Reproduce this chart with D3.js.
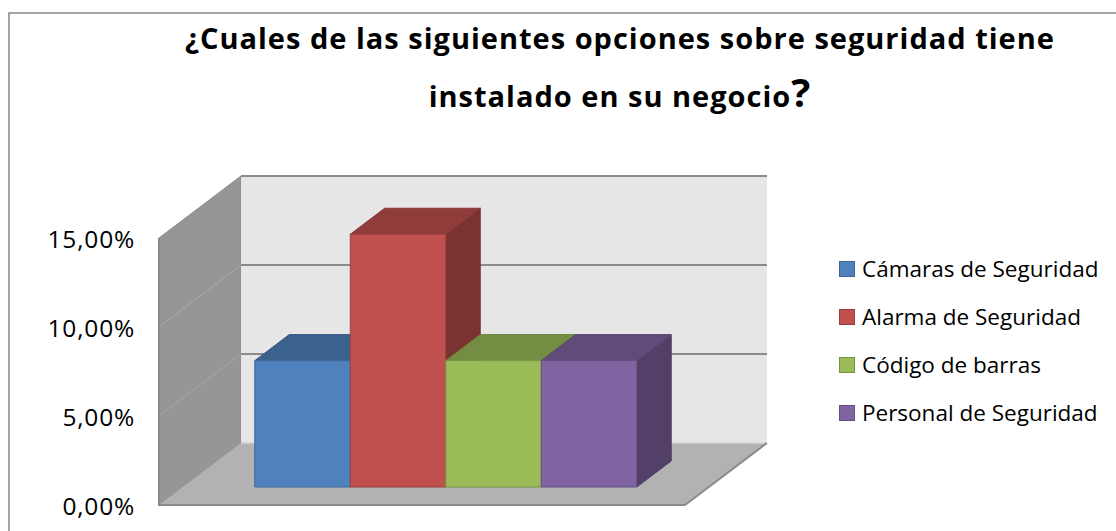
<!DOCTYPE html>
<html>
<head>
<meta charset="utf-8">
<script src="https://cdn.jsdelivr.net/npm/d3@7"></script>
<style>
    body { margin: 0; background: #fff; }
    text { font-family: "Open Sans", Lato, sans-serif; fill: #000; }
</style>
</head>
<body>
<div id="chart"></div>
<script>
// chart data
const series = ["Cámaras de Seguridad", "Alarma de Seguridad", "Código de barras", "Personal de Seguridad"];
const values = [0.071, 0.142, 0.071, 0.071];
const yTicks = [0, 0.05, 0.10, 0.15];
const titleLines = ["¿Cuales de las siguientes opciones sobre seguridad tiene", "instalado en su negocio"];
const titleMark = "?";

const palette = ["#4F81BD", "#C0504D", "#9BBB59", "#8064A2"];

const W = 1116, H = 531;
let svg = d3.select("#chart")
    .append("svg")
    .attr("width", W)
    .attr("height", H);

// outer chart frame
svg.append("rect")
    .attr("x", 9).attr("y", 13)
    .attr("width", W).attr("height", H)
    .attr("fill", "#fff")
    .attr("stroke", "#878787")
    .attr("stroke-width", 1.5);

// 3d box: front plane + depth vector
const plot = { x0: 159, y0: 505, w: 526, dx: 82, dy: 62 };
const zF = 0.29, zB = 0.71; // bar depth in the box

let x = d3.scaleBand()
    .domain(series)
    .range([0, plot.w])
    .paddingInner(0)
    .paddingOuter(0.754);
let y = d3.scaleLinear()
    .domain([0, 0.15])
    .range([plot.y0, 238]);

const P = (px, v, z) => [plot.x0 + px + z * plot.dx, y(v) - z * plot.dy];
const poly = pts => "M" + pts.map(p => p.join(",")).join("L") + "Z";
const line = (a, b) => "M" + a.join(",") + "L" + b.join(",");
const vMax = y.domain()[1];

// walls
svg.append("path")
    .attr("d", poly([P(0, vMax, 0), P(0, vMax, 1), P(0, 0, 1), P(0, 0, 0)]))
    .attr("fill", "#969696")
    .attr("stroke", "#8c8c8c")
    .attr("stroke-width", 1);
svg.append("path")
    .attr("d", poly([P(0, vMax, 1), P(plot.w, vMax, 1), P(plot.w, 0, 1), P(0, 0, 1)]))
    .attr("fill", "#e6e6e6");
svg.append("path")
    .attr("d", poly([P(0, 0, 0), P(plot.w, 0, 0), P(plot.w, 0, 1), P(0, 0, 1)]))
    .attr("fill", "#b2b2b2");

// gridlines
yTicks.forEach(t => {
    svg.append("path")
        .attr("d", line(P(0, t, 1), P(plot.w, t, 1)))
        .attr("stroke", t === 0 ? "#d4d4d4" : "#8a8a8a")
        .attr("stroke-width", t === 0 ? 1.5 : 2)
        .attr("fill", "none");
    if (t > 0 && t < vMax) {
        svg.append("path")
            .attr("d", line(P(0, t, 0), P(0, t, 1)))
            .attr("stroke", "#a9a9a9")
            .attr("stroke-width", 1)
            .attr("fill", "none");
    }
});

// floor edges
svg.append("path")
    .attr("d", "M" + P(0, vMax, 0).join(",") + "L" + P(0, 0, 0).join(",") + "L" + P(plot.w, 0, 0).join(",") + "L" + P(plot.w, 0, 1).join(","))
    .attr("fill", "none")
    .attr("stroke", "#8a8a8a")
    .attr("stroke-width", 2);

// bars, drawn left to right
series.forEach((s, i) => {
    const v = values[i];
    const xl = x(s), xr = xl + x.bandwidth();
    const c = d3.color(palette[i]);
    const g = svg.append("g").attr("class", "bar");
    g.append("path")
        .attr("d", poly([P(xr, v, zF), P(xr, v, zB), P(xr, 0, zB), P(xr, 0, zF)]))
        .attr("fill", c.darker(1.25))
        .attr("stroke", c.darker(1.45))
        .attr("stroke-width", 1);
    g.append("path")
        .attr("d", poly([P(xl, v, zF), P(xr, v, zF), P(xr, v, zB), P(xl, v, zB)]))
        .attr("fill", c.darker(0.8))
        .attr("stroke", c.darker(1))
        .attr("stroke-width", 1);
    g.append("path")
        .attr("d", poly([P(xl, v, zF), P(xr, v, zF), P(xr, 0, zF), P(xl, 0, zF)]))
        .attr("fill", c)
        .attr("stroke", c.darker(0.6))
        .attr("stroke-width", 1);
});

// y axis on the front left edge
const loc = d3.formatLocale({ decimal: ",", thousands: ".", grouping: [3], currency: ["", "€"], percent: "%" });
let yAxis = svg.append("g")
    .attr("transform", "translate(137,2)")
    .call(d3.axisLeft(y)
        .tickValues(yTicks)
        .tickSize(0)
        .tickPadding(2)
        .tickFormat(loc.format(".2%")));
yAxis.select(".domain").remove();
yAxis.selectAll("text")
    .style("font-family", "'Open Sans', Lato, sans-serif")
    .style("font-size", "24.5px")
    .style("letter-spacing", "0.8px")
    .attr("fill", "#000");

// legend
let legend = svg.append("g").attr("transform", "translate(839,261)");
series.forEach((s, i) => {
    const c = d3.color(palette[i]);
    const row = legend.append("g").attr("transform", "translate(0," + (i * 48) + ")");
    row.append("rect")
        .attr("x", 0.5).attr("y", 0.5)
        .attr("width", 15).attr("height", 15)
        .attr("fill", c)
        .attr("stroke", c.darker(0.7));
    row.append("text")
        .attr("x", 23)
        .attr("y", 15.5)
        .style("font-size", "22.5px")
        .text(s);
});

// title
let title = svg.append("text")
    .attr("text-anchor", "middle")
    .style("font-weight", "bold")
    .style("font-size", "29px")
    .style("letter-spacing", "1px");
title.append("tspan")
    .attr("x", 620).attr("y", 49)
    .text(titleLines[0]);
title.append("tspan")
    .attr("x", 620).attr("y", 107)
    .text(titleLines[1]);
title.append("tspan")
    .style("font-size", "40px")
    .text(titleMark);
</script>
</body>
</html>
